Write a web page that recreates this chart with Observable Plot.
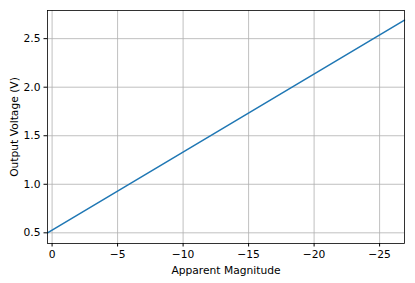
<!DOCTYPE html>
<html>
<head>
<meta charset="utf-8">
<script src="https://cdn.jsdelivr.net/npm/d3@7"></script>
<script src="https://cdn.jsdelivr.net/npm/@observablehq/plot@0.6"></script>
<style>
body { margin: 0; background: #fff; }
svg { font-family: "DejaVu Sans", sans-serif; }
</style>
</head>
<body>
<div id="chart"></div>
<script>
const magnitude = [0.35, -26.9];
const voltage = [0.5, 2.69];
const xTicks = [0, -5, -10, -15, -20, -25];
const yTicks = [0.5, 1.0, 1.5, 2.0, 2.5];

const data = magnitude.map((m, i) => ({m, v: voltage[i]}));

const chart = Plot.plot({
  width: 415,
  height: 283,
  marginLeft: 47,
  marginRight: 11,
  marginTop: 10,
  marginBottom: 40,
  style: {fontFamily: "DejaVu Sans, sans-serif", fontSize: "10.7px", color: "black", background: "white"},
  x: {domain: [0.35, -26.9], ticks: xTicks, tickSize: 3.5, tickPadding: 3.5, label: "Apparent Magnitude", labelAnchor: "center", labelArrow: "none", labelOffset: 30, tickFormat: d => d3.format("d")(d)},
  y: {domain: [0.39, 2.79], ticks: yTicks, tickSize: 3.5, tickPadding: 3.5, label: "Output Voltage (V)", labelAnchor: "center", labelArrow: "none", labelOffset: 37, tickFormat: d => d.toFixed(1)},
  marks: [
    Plot.ruleX(xTicks, {stroke: "#b0b0b0", strokeWidth: 0.8, strokeOpacity: 1}),
    Plot.ruleY(yTicks, {stroke: "#b0b0b0", strokeWidth: 0.8, strokeOpacity: 1}),
    Plot.line(data, {x: "m", y: "v", stroke: "#1f77b4", strokeWidth: 1.5}),
    Plot.frame({stroke: "black", strokeWidth: 0.8})
  ]
});
document.getElementById("chart").appendChild(chart);
</script>
</body>
</html>
